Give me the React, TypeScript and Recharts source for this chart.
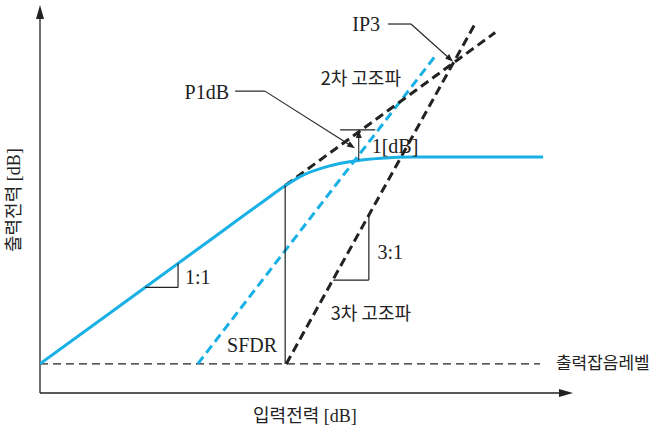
import React from "react";
import {
  LineChart,
  Line,
  XAxis,
  YAxis,
  ReferenceLine,
  ReferenceDot,
} from "recharts";

type Pt = { x: number; y: number };

// curves (input dB on x, output dB on y, both 0..100)
const fundamental: Pt[] = [
  { x: 0, y: 7.5 },
  { x: 15, y: 22.5 },
  { x: 30, y: 37.5 },
  { x: 42, y: 49.5 },
  { x: 46, y: 53.4 },
  { x: 49, y: 55.9 },
  { x: 54, y: 58.4 },
  { x: 59, y: 59.8 },
  { x: 64, y: 60.5 },
  { x: 70, y: 60.8 },
  { x: 94.4, y: 60.8 },
];
const linearExtension: Pt[] = [
  { x: 46, y: 53.5 },
  { x: 85.4, y: 92.9 },
];
const secondHarmonic: Pt[] = [
  { x: 29.6, y: 7.5 },
  { x: 74.3, y: 87.1 },
];
const thirdHarmonic: Pt[] = [
  { x: 46.2, y: 7.5 },
  { x: 81.6, y: 95.1 },
];
const noiseFloor: Pt[] = [
  { x: 0, y: 7.5 },
  { x: 93.8, y: 7.5 },
];

// thin helper lines: SFDR, slope triangles, 1dB mark, leaders
const thinSegments: [Pt, Pt][] = [
  [{ x: 46, y: 7.5 }, { x: 46, y: 53.5 }],
  [{ x: 19.7, y: 27.2 }, { x: 25.9, y: 27.2 }],
  [{ x: 25.9, y: 27.2 }, { x: 25.9, y: 33.4 }],
  [{ x: 55, y: 29.1 }, { x: 61.7, y: 29.1 }],
  [{ x: 61.7, y: 29.1 }, { x: 61.7, y: 45.8 }],
  [{ x: 56.3, y: 67.8 }, { x: 62.9, y: 67.8 }],
  [{ x: 36.6, y: 77.8 }, { x: 42.2, y: 77.8 }],
  [{ x: 65.3, y: 95.1 }, { x: 69.6, y: 95.1 }],
];
const arrowSegments: [Pt, Pt][] = [
  [{ x: 59.8, y: 60 }, { x: 59.8, y: 67.8 }],
  [{ x: 42.2, y: 77.8 }, { x: 59.1, y: 63.1 }],
  [{ x: 69.6, y: 95.1 }, { x: 77.5, y: 85.4 }],
];
const axisSegments: [Pt, Pt][] = [
  [{ x: 0, y: 0 }, { x: 100, y: 0 }],
  [{ x: 0, y: 0 }, { x: 0, y: 100 }],
];

const SERIF = "'Liberation Serif', 'Noto Sans CJK KR', serif";
const SANS = "'Noto Sans CJK KR', sans-serif";

const labels = [
  { text: "IP3", x: 61.2, y: 95.1, font: SERIF, size: 20 },
  { text: "2차 고조파", x: 60.2, y: 81.4, font: SANS, size: 18 },
  { text: "P1dB", x: 31.3, y: 77.6, font: SERIF, size: 20 },
  { text: "1[dB]", x: 66.6, y: 63.7, font: SERIF, size: 20 },
  { text: "1:1", x: 29.6, y: 29.9, font: SERIF, size: 20 },
  { text: "3:1", x: 65.7, y: 36.3, font: SERIF, size: 20 },
  { text: "3차 고조파", x: 62.1, y: 20.9, font: SANS, size: 18 },
  { text: "SFDR", x: 39.8, y: 12.4, font: SERIF, size: 20 },
  { text: "출력잡음레벨", x: 105.6, y: 8.0, font: SANS, size: 17 },
  { text: "입력전력 [dB]", x: 49.7, y: -5.9, font: SERIF, size: 18 },
  { text: "출력전력 [dB]", x: -4.9, y: 49.7, font: SERIF, size: 18, angle: -90 },
];

const CYAN = "#19b0e6";
const DARK = "#222";

const arrowShape =
  (len: number, wid: number, sw: number) =>
  (props: any) => {
    const { x1, y1, x2, y2 } = props;
    const a = Math.atan2(y2 - y1, x2 - x1);
    const c = Math.cos(a);
    const s = Math.sin(a);
    const bx = x2 - len * c;
    const by = y2 - len * s;
    const px = (-s * wid) / 2;
    const py = (c * wid) / 2;
    return (
      <g>
        <line x1={x1} y1={y1} x2={bx + c} y2={by + s} stroke={DARK} strokeWidth={sw} />
        <polygon
          points={`${x2},${y2} ${bx + px},${by + py} ${bx - px},${by - py}`}
          fill={DARK}
        />
      </g>
    );
  };

export default function App() {
  return (
    <div style={{ position: "absolute", left: 0, top: 0, background: "#fff" }}>
      <LineChart
        width={659}
        height={433}
        margin={{ top: 5, right: 86, bottom: 40, left: 40 }}
      >
        <XAxis dataKey="x" type="number" domain={[0, 100]} allowDataOverflow hide />
        <YAxis type="number" domain={[0, 100]} allowDataOverflow hide />

        {axisSegments.map((seg, i) => (
          <ReferenceLine
            key={"ax" + i}
            segment={seg}
            ifOverflow="visible"
            shape={arrowShape(14, 8, 1.3)}
          />
        ))}

        <Line data={noiseFloor} dataKey="y" stroke={DARK} strokeWidth={1.3}
          strokeDasharray="8 5" dot={false} activeDot={false} isAnimationActive={false} />
        <Line data={secondHarmonic} dataKey="y" stroke={CYAN} strokeWidth={3}
          strokeDasharray="9 5" dot={false} activeDot={false} isAnimationActive={false} />
        <Line data={thirdHarmonic} dataKey="y" stroke={DARK} strokeWidth={3}
          strokeDasharray="9 5" dot={false} activeDot={false} isAnimationActive={false} />
        <Line data={linearExtension} dataKey="y" stroke={DARK} strokeWidth={3}
          strokeDasharray="9 5" dot={false} activeDot={false} isAnimationActive={false} />
        <Line data={fundamental} dataKey="y" type="monotone" stroke={CYAN} strokeWidth={3}
          dot={false} activeDot={false} isAnimationActive={false} />

        {thinSegments.map((seg, i) => (
          <ReferenceLine key={"t" + i} segment={seg} ifOverflow="visible"
            stroke={DARK} strokeWidth={1.2} />
        ))}
        {arrowSegments.map((seg, i) => (
          <ReferenceLine key={"a" + i} segment={seg} ifOverflow="visible"
            shape={arrowShape(8, 6, 1.1)} />
        ))}

        {labels.map((l, i) => (
          <ReferenceDot
            key={"l" + i}
            x={l.x}
            y={l.y}
            r={0}
            ifOverflow="visible"
            shape={(p: any) => (
              <text
                x={p.cx}
                y={p.cy}
                textAnchor="middle"
                dominantBaseline="central"
                fontFamily={l.font}
                fontSize={l.size}
                fill={DARK}
                transform={l.angle ? `rotate(${l.angle} ${p.cx} ${p.cy})` : undefined}
              >
                {l.text}
              </text>
            )}
          />
        ))}
      </LineChart>
    </div>
  );
}
